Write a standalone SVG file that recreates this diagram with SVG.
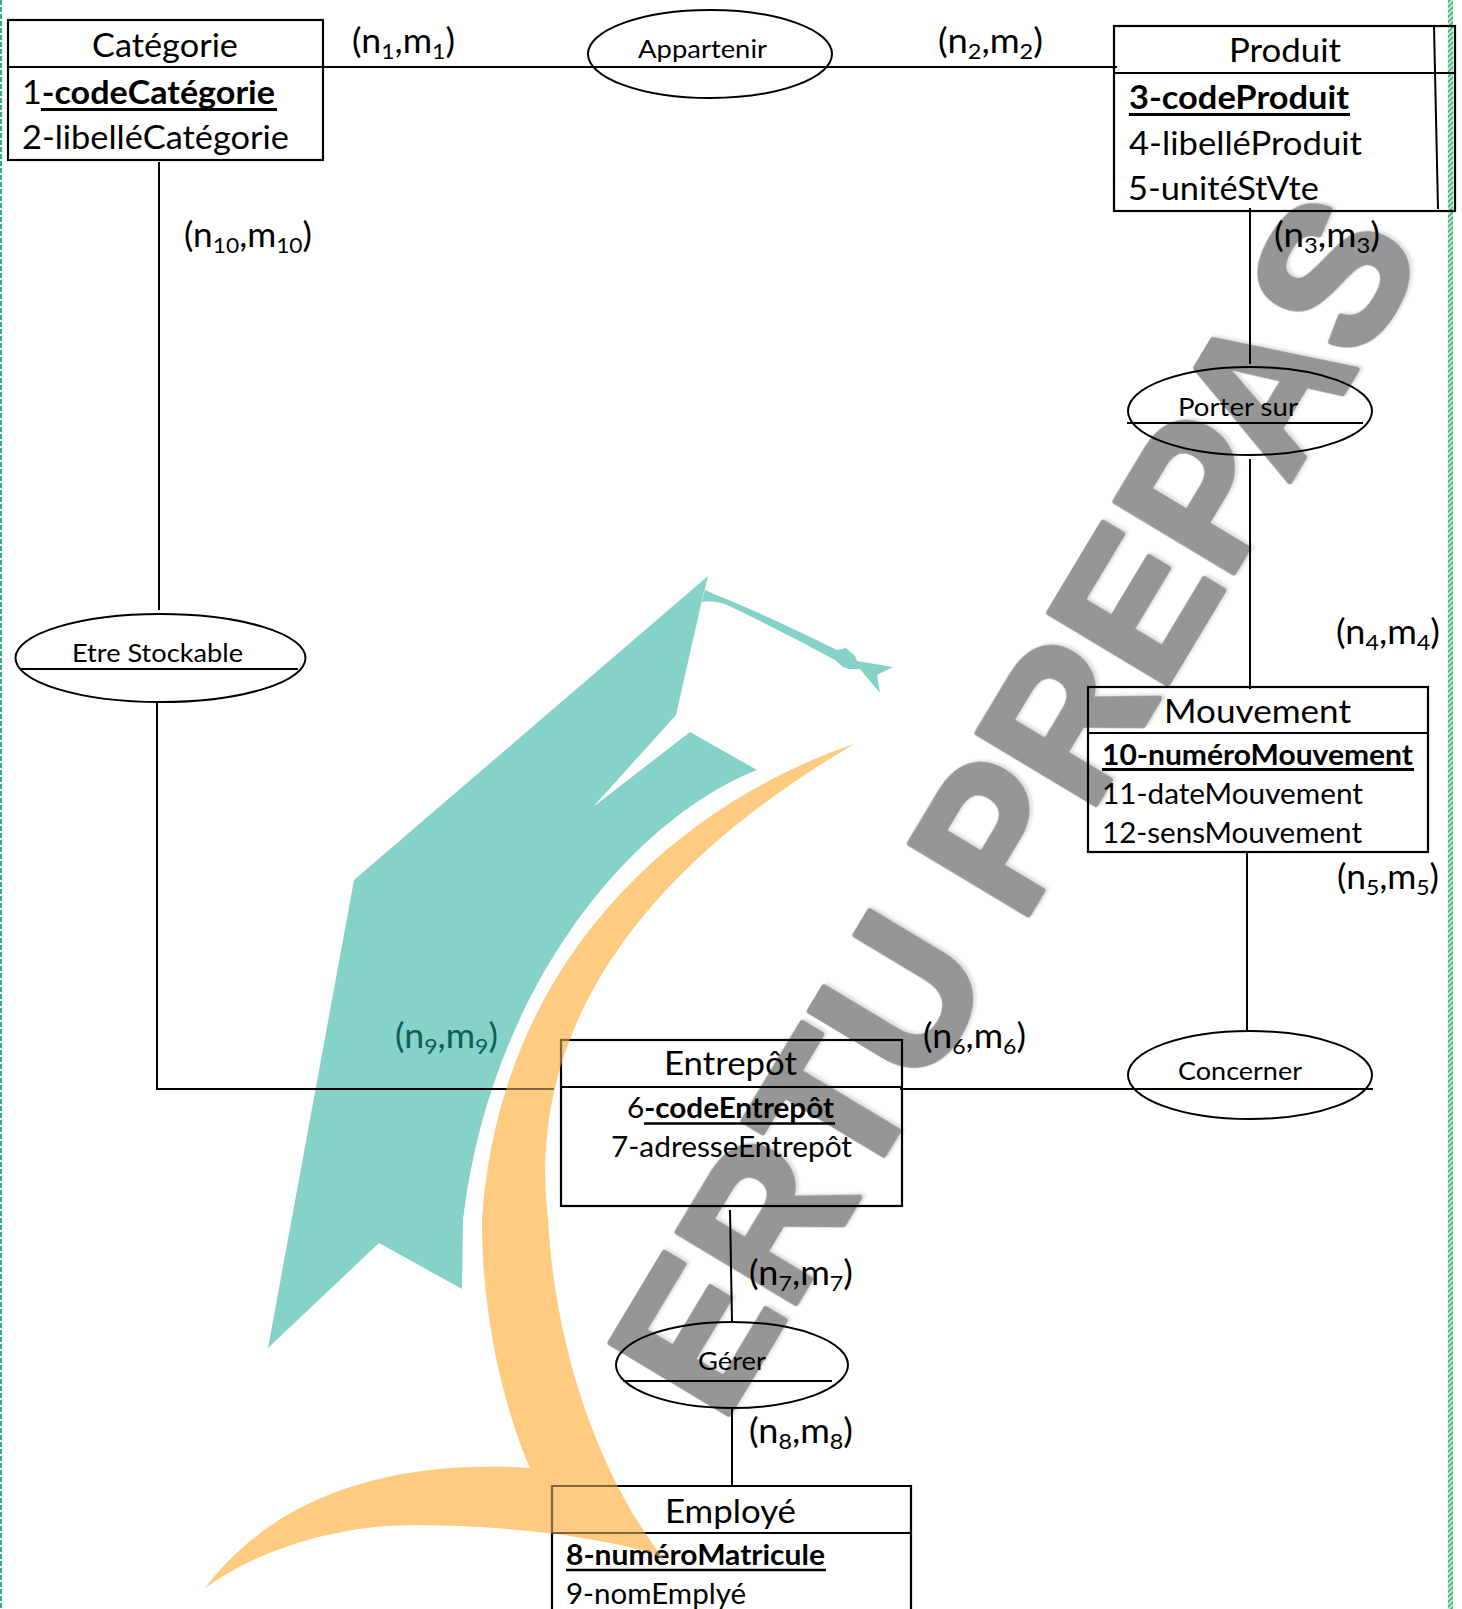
<svg xmlns="http://www.w3.org/2000/svg" width="1462" height="1609" viewBox="0 0 1462 1609">
<style>
text{font-family:"Lato","Carlito","Liberation Sans",sans-serif;fill:#000}
.t{font-size:33px}.a{font-size:33px}.b{font-weight:700}
.m{font-size:29px}.e{font-size:28px}.r{font-size:25px}.c{font-size:34px}
.s{font-size:22px}
.box{fill:none;stroke:#000;stroke-width:2.2}
.ln{fill:none;stroke:#000;stroke-width:2}
.ell{fill:none;stroke:#000;stroke-width:2}
.wm{font-family:"Liberation Sans",sans-serif;font-weight:700;font-size:200px;fill:#969696;stroke:#969696;stroke-width:6;stroke-linejoin:round}
</style>
<defs>
<pattern id="hatch" width="5" height="5" patternUnits="userSpaceOnUse">
<rect width="5" height="5" fill="#bfe8cf"/>
<path d="M0,5L5,0M-1,1L1,-1M4,6L6,4" stroke="#2fb36f" stroke-width="1.5"/>
</pattern>
<path id="orange" d="M854,744C690,800 500,950 482,1220C482,1320 505,1410 530,1468C400,1460 280,1490 205,1588C260,1548 340,1525 413,1525C500,1525 590,1535 653,1553L667,1563C600,1480 555,1350 548,1220C525,1030 640,870 854,744Z"/>
<filter id="soft" x="-5%" y="-5%" width="110%" height="110%"><feDropShadow dx="3" dy="2" stdDeviation="1.5" flood-color="#000" flood-opacity=".12"/></filter>
</defs>
<rect width="1462" height="1609" fill="#fff"/>
<g id="page-border">
<rect x="1448" y="0" width="5" height="1609" fill="url(#hatch)"/>
<path d="M1,0V1609" stroke="#22b573" stroke-width="2" stroke-dasharray="5 2" fill="none"/>
</g>
<g id="logo">
<path fill="#85D2C8" d="M708,576L702,600L676,715L593,807L690,732L757,770C630,820 490,990 463,1220L462,1289L379,1243L268,1348L354,880Z"/>
<path fill="#85D2C8" d="M708,576L705,590L716,595Q760,612 837,650L846,648L855,656L857,661L893,667L877,675L880,693L860,669L849,669L843,667L835,660Q780,630 725,604Q712,600 702,602Z"/>
<use href="#orange" fill="#FECB81"/>
</g>
<text id="watermark" class="wm" transform="translate(722,1425) rotate(-59)" textLength="1366" lengthAdjust="spacingAndGlyphs" filter="url(#soft)">ERTU PREPAS</text>
<g id="connectors">
<path class="ln" d="M323,67H1117"/>
<path class="ln" d="M159,162V610"/>
<path class="ln" d="M1250,208V364M1250,459V689"/>
<path class="ln" d="M1247,851V1031"/>
<path class="ln" d="M900,1089H1373"/>
<path class="ln" d="M157,702V1089H554"/>
<path class="ln" d="M730,1210L732,1322M732,1408V1485"/>
</g>
<g id="cardinalities">
<text class="c" x="352" y="53" textLength="103" lengthAdjust="spacingAndGlyphs">(n<tspan class="s" dy="6">1</tspan><tspan dy="-6">,m</tspan><tspan class="s" dy="6">1</tspan><tspan dy="-6">)</tspan></text>
<text class="c" x="938" y="53" textLength="105" lengthAdjust="spacingAndGlyphs">(n<tspan class="s" dy="6">2</tspan><tspan dy="-6">,m</tspan><tspan class="s" dy="6">2</tspan><tspan dy="-6">)</tspan></text>
<text class="c" x="1274" y="247" textLength="106" lengthAdjust="spacingAndGlyphs">(n<tspan class="s" dy="6">3</tspan><tspan dy="-6">,m</tspan><tspan class="s" dy="6">3</tspan><tspan dy="-6">)</tspan></text>
<text class="c" x="1336" y="644" textLength="104" lengthAdjust="spacingAndGlyphs">(n<tspan class="s" dy="6">4</tspan><tspan dy="-6">,m</tspan><tspan class="s" dy="6">4</tspan><tspan dy="-6">)</tspan></text>
<text class="c" x="1337" y="889" textLength="102" lengthAdjust="spacingAndGlyphs">(n<tspan class="s" dy="6">5</tspan><tspan dy="-6">,m</tspan><tspan class="s" dy="6">5</tspan><tspan dy="-6">)</tspan></text>
<text class="c" x="923" y="1048" textLength="103" lengthAdjust="spacingAndGlyphs">(n<tspan class="s" dy="6">6</tspan><tspan dy="-6">,m</tspan><tspan class="s" dy="6">6</tspan><tspan dy="-6">)</tspan></text>
<text class="c" x="749" y="1285" textLength="104" lengthAdjust="spacingAndGlyphs">(n<tspan class="s" dy="6">7</tspan><tspan dy="-6">,m</tspan><tspan class="s" dy="6">7</tspan><tspan dy="-6">)</tspan></text>
<text class="c" x="749" y="1443" textLength="104" lengthAdjust="spacingAndGlyphs">(n<tspan class="s" dy="6">8</tspan><tspan dy="-6">,m</tspan><tspan class="s" dy="6">8</tspan><tspan dy="-6">)</tspan></text>
<text class="c" x="395" y="1048" textLength="103" lengthAdjust="spacingAndGlyphs" style="fill:#0b5f58">(n<tspan class="s" dy="6">9</tspan><tspan dy="-6">,m</tspan><tspan class="s" dy="6">9</tspan><tspan dy="-6">)</tspan></text>
<text class="c" x="184" y="247" textLength="128" lengthAdjust="spacingAndGlyphs">(n<tspan class="s" dy="6">10</tspan><tspan dy="-6">,m</tspan><tspan class="s" dy="6">10</tspan><tspan dy="-6">)</tspan></text>
</g>
<g id="categorie">
<rect class="box" x="8" y="20" width="315" height="140"/><path class="ln" d="M8,67H323"/>
<text class="t" x="92" y="57" textLength="146" lengthAdjust="spacingAndGlyphs">Catégorie</text>
<text class="a" x="22" y="104" textLength="253" lengthAdjust="spacingAndGlyphs">1<tspan class="b">-codeCatégorie</tspan></text>
<path class="ln" d="M41,109.500H277" style="stroke-width:3"/>
<text class="a" x="22" y="149" textLength="267" lengthAdjust="spacingAndGlyphs">2-libelléCatégorie</text>
</g>
<g id="produit">
<rect class="box" x="1114" y="26" width="341" height="185"/><path class="ln" d="M1114,73H1455M1434,26L1438,209"/>
<text class="t" x="1229" y="62" textLength="112" lengthAdjust="spacingAndGlyphs">Produit</text>
<text class="a b" x="1129" y="109" textLength="220" lengthAdjust="spacingAndGlyphs">3-codeProduit</text>
<path class="ln" d="M1129,114.500H1350" style="stroke-width:3"/>
<text class="a" x="1129" y="155" textLength="233" lengthAdjust="spacingAndGlyphs">4-libelléProduit</text>
<text class="a" x="1128" y="200" textLength="191" lengthAdjust="spacingAndGlyphs">5-unitéStVte</text>
</g>
<g id="mouvement">
<rect class="box" x="1088" y="687" width="340" height="165"/><path class="ln" d="M1088,733H1428"/>
<text class="t" x="1164" y="723" textLength="187" lengthAdjust="spacingAndGlyphs">Mouvement</text>
<text class="m b" x="1102" y="765" textLength="311" lengthAdjust="spacingAndGlyphs">10-numéroMouvement</text>
<path class="ln" d="M1102,769.500H1414" style="stroke-width:3"/>
<text class="m" x="1102" y="804" textLength="261" lengthAdjust="spacingAndGlyphs">11-dateMouvement</text>
<text class="m" x="1102" y="843" textLength="260" lengthAdjust="spacingAndGlyphs">12-sensMouvement</text>
</g>
<g id="entrepot">
<rect class="box" x="561" y="1040" width="341" height="166"/><path class="ln" d="M561,1087H902"/>
<text class="t" x="664" y="1075" textLength="133" lengthAdjust="spacingAndGlyphs">Entrepôt</text>
<text class="e" x="627" y="1118" textLength="207" lengthAdjust="spacingAndGlyphs">6<tspan class="b">-codeEntrepôt</tspan></text>
<path class="ln" d="M644,1123.500H835" style="stroke-width:2.500"/>
<text class="e" x="611" y="1157" textLength="241" lengthAdjust="spacingAndGlyphs">7-adresseEntrepôt</text>
</g>
<g id="employe">
<path class="box" d="M552,1612V1486H911V1612"/><path class="ln" d="M552,1533H911"/>
<text class="t" x="665" y="1523" textLength="131" lengthAdjust="spacingAndGlyphs">Employé</text>
<text class="e b" x="566" y="1565" textLength="259" lengthAdjust="spacingAndGlyphs">8-numéroMatricule</text>
<path class="ln" d="M566,1570H826" style="stroke-width:2.500"/>
<text class="e" x="566" y="1604" textLength="180" lengthAdjust="spacingAndGlyphs">9-nomEmplyé</text>
</g>
<g id="appartenir">
<ellipse class="ell" cx="710" cy="54" rx="122" ry="44"/>
<text class="r" x="638" y="58" textLength="129" lengthAdjust="spacingAndGlyphs">Appartenir</text>
</g>
<g id="porter-sur">
<ellipse class="ell" cx="1250" cy="411" rx="122" ry="44"/><path class="ln" d="M1127,423H1363"/>
<text class="r" x="1178" y="416" textLength="120" lengthAdjust="spacingAndGlyphs">Porter sur</text>
</g>
<g id="concerner">
<ellipse class="ell" cx="1250" cy="1075" rx="122" ry="44"/>
<text class="r" x="1178" y="1080" textLength="124" lengthAdjust="spacingAndGlyphs">Concerner</text>
</g>
<g id="etre-stockable">
<ellipse class="ell" cx="160.500" cy="658" rx="145" ry="44"/><path class="ln" d="M20,669H298"/>
<text class="r" x="72" y="662" textLength="171" lengthAdjust="spacingAndGlyphs">Etre Stockable</text>
</g>
<g id="gerer">
<ellipse class="ell" cx="732" cy="1365" rx="116" ry="43"/><path class="ln" d="M623,1381H832"/>
<text class="r" x="698" y="1370" textLength="68" lengthAdjust="spacingAndGlyphs">Gérer</text>
</g>
<use id="logo-overlay" href="#orange" fill="#FECB81" fill-opacity=".5"/>
</svg>
